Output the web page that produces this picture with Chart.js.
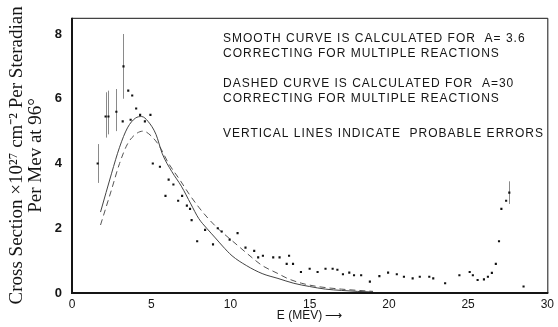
<!DOCTYPE html>
<html>
<head>
<meta charset="utf-8">
<script src="https://cdn.jsdelivr.net/npm/chart.js@4"></script>
<style>
  html, body { margin: 0; background: #fff; }
  #wrap { width: 558px; height: 327px; }
</style>
</head>
<body>
<div id="wrap"><canvas id="chart"></canvas></div>
<script>
// measured points (E in MeV, cross section)
const energy = [1.62, 2.12, 2.3, 2.8, 3.2, 3.25, 3.55, 3.7, 3.8, 4.05, 4.3, 4.6, 4.95, 5.1, 5.55, 5.9, 6.1, 6.4, 6.7, 6.95,
  7.25, 7.45, 7.55, 7.9, 8.4, 8.9, 9.2, 9.45, 9.95, 10.45, 10.95, 11.5, 11.75, 12.05, 12.7, 13.1, 13.55, 13.7, 13.95, 14.45,
  15.0, 15.5, 16.0, 16.45, 16.75, 17.1, 17.5, 17.8, 18.25, 18.8, 19.4, 19.95, 20.5, 20.95, 21.5, 21.95, 22.55, 22.8, 23.55, 24.45,
  25.1, 25.3, 25.6, 26.0, 26.25, 26.5, 26.75, 26.95, 27.1, 27.4, 27.6, 28.5];
const sigma = [4.0, 5.45, 5.45, 5.6, 5.3, 7.0, 6.25, 5.35, 6.1, 5.7, 5.5, 5.3, 5.5, 4.0, 3.9, 3.0, 3.5, 3.35, 2.85, 3.0,
  2.7, 2.6, 2.25, 1.6, 1.95, 1.5, 2.0, 1.9, 1.65, 1.85, 1.4, 1.3, 1.1, 1.15, 1.1, 1.1, 0.9, 1.15, 0.9, 0.65,
  0.75, 0.65, 0.75, 0.75, 0.72, 0.58, 0.63, 0.55, 0.55, 0.35, 0.52, 0.63, 0.58, 0.5, 0.45, 0.5, 0.5, 0.45, 0.3, 0.55,
  0.65, 0.55, 0.4, 0.42, 0.5, 0.62, 0.9, 1.6, 2.6, 2.85, 3.1, 0.2];

// probable errors (vertical lines)
const errE = [1.62, 2.12, 2.3, 2.8, 3.25, 27.6];
const errLow = [3.4, 4.8, 4.9, 5.0, 6.0, 2.75];
const errHigh = [4.6, 6.2, 6.25, 6.3, 8.0, 3.45];

// smooth curve, A = 3.6
const smoothE = [1.8, 2.5, 3.0, 3.5, 4.0, 4.4, 4.8, 5.3, 5.7, 6.3, 6.9, 7.5, 8.0, 8.5, 9.05, 9.5, 10.1, 11, 12, 13, 14, 15, 16, 17, 18, 19];
const smoothS = [2.5, 3.7, 4.5, 5.1, 5.4, 5.45, 5.3, 4.9, 4.3, 3.75, 3.3, 2.75, 2.3, 2.0, 1.7, 1.45, 1.15, 0.85, 0.6, 0.45, 0.3, 0.2, 0.12, 0.08, 0.05, 0.03];

// dashed curve, A = 30
const dashedE = [1.8, 2.5, 3.0, 3.5, 4.0, 4.5, 5.0, 5.5, 6.1, 6.8, 7.4, 8.0, 8.6, 9.3, 9.9, 10.5, 11.1, 12.0, 13.0, 13.6, 14.5, 15.5, 17, 19];
const dashedS = [2.1, 3.2, 4.0, 4.6, 4.9, 5.0, 4.85, 4.55, 4.0, 3.5, 3.05, 2.65, 2.3, 1.95, 1.7, 1.45, 1.2, 0.85, 0.6, 0.45, 0.3, 0.2, 0.12, 0.05];

const xTicks = [0, 5, 10, 15, 20, 25, 30];
const yTicks = [0, 2, 4, 6, 8];

const notes = [
  'SMOOTH CURVE IS CALCULATED FOR  A= 3.6',
  'CORRECTING FOR MULTIPLE REACTIONS',
  'DASHED CURVE IS CALCULATED FOR  A=30',
  'CORRECTING FOR MULTIPLE REACTIONS',
  'VERTICAL LINES INDICATE  PROBABLE ERRORS'
];

const ink = '#151515';
const toXY = (xs, ys) => xs.map((x, i) => ({ x: x, y: ys[i] }));

// frame, error bars and the notes
const extras = {
  id: 'extras',
  beforeDatasetsDraw(chart) {
    const { ctx, scales } = chart;
    ctx.save();
    ctx.strokeStyle = '#8a8a8a';
    ctx.lineWidth = 1;
    errE.forEach((e, i) => {
      const x = Math.round(scales.x.getPixelForValue(e)) + 0.5;
      ctx.beginPath();
      ctx.moveTo(x, scales.y.getPixelForValue(errLow[i]));
      ctx.lineTo(x, scales.y.getPixelForValue(errHigh[i]));
      ctx.stroke();
    });
    ctx.restore();
  },
  afterDraw(chart) {
    const { ctx, chartArea: a } = chart;
    ctx.save();
    ctx.strokeStyle = ink;
    ctx.lineWidth = 1;
    ctx.beginPath();
    ctx.moveTo(a.left, a.top + 0.5);
    ctx.lineTo(a.right + 0.5, a.top + 0.5);
    ctx.lineTo(a.right + 0.5, a.bottom);
    ctx.stroke();
    ctx.lineWidth = 2;
    ctx.beginPath();
    ctx.moveTo(a.left, a.top);
    ctx.lineTo(a.left, a.bottom);
    ctx.lineTo(a.right + 1, a.bottom);
    ctx.stroke();

    ctx.fillStyle = ink;
    ctx.font = '12px "Liberation Sans", Arial, sans-serif';
    ctx.textBaseline = 'middle';
    ctx.letterSpacing = '1px';
    const offs = [21, 36, 66, 81, 116];
    notes.forEach((t, i) => ctx.fillText(t, a.left + 151, a.top + offs[i]));
    ctx.restore();
  }
};

new Chart(document.getElementById('chart'), {
  type: 'scatter',
  data: {
    datasets: [
      {
        label: 'Measured',
        data: toXY(energy, sigma),
        pointStyle: 'rect',
        pointRadius: 1.5,
        backgroundColor: '#111',
        borderWidth: 0
      },
      {
        label: 'A = 3.6',
        data: toXY(smoothE, smoothS),
        showLine: true,
        pointRadius: 0,
        borderColor: '#444',
        borderWidth: 1,
        cubicInterpolationMode: 'monotone'
      },
      {
        label: 'A = 30',
        data: toXY(dashedE, dashedS),
        showLine: true,
        pointRadius: 0,
        borderColor: '#555',
        borderWidth: 1,
        borderDash: [6, 4],
        cubicInterpolationMode: 'monotone'
      }
    ]
  },
  options: {
    responsive: true,
    maintainAspectRatio: false,
    animation: false,
    layout: { padding: { top: 13, right: 7, left: 0, bottom: 0 } },
    plugins: { legend: { display: false }, tooltip: { enabled: false } },
    scales: {
      x: {
        type: 'linear',
        min: 0,
        max: 30,
        afterBuildTicks: s => { s.ticks = xTicks.map(v => ({ value: v })); },
        afterFit: s => { s.height = 34; },
        grid: { display: false, drawTicks: false },
        border: { display: false },
        ticks: { color: ink, padding: 4, font: { family: '"Liberation Sans", Arial, sans-serif', size: 12 } },
        title: {
          display: true,
          text: 'E (MEV) \u27F6',
          color: ink,
          padding: { top: 0, bottom: 4 },
          font: { family: '"Liberation Sans", Arial, sans-serif', size: 12 }
        }
      },
      y: {
        type: 'linear',
        min: 0,
        max: 8.5,
        afterBuildTicks: s => { s.ticks = yTicks.map(v => ({ value: v })); },
        afterFit: s => { s.width = 72; },
        grid: { display: false, drawTicks: false },
        border: { display: false },
        ticks: { color: ink, padding: 10, font: { family: '"Liberation Sans", Arial, sans-serif', size: 13, weight: 'bold' } },
        title: {
          display: true,
          text: ['Cross Section \u00D710\u00B2\u2077 cm\u207B\u00B2 Per Steradian', 'Per Mev at 96\u00B0'],
          color: ink,
          padding: { top: 8, bottom: 0 },
          font: { family: '"Liberation Serif", "Times New Roman", serif', size: 19, lineHeight: 1.0 }
        }
      }
    }
  },
  plugins: [extras]
});
</script>
</body>
</html>
